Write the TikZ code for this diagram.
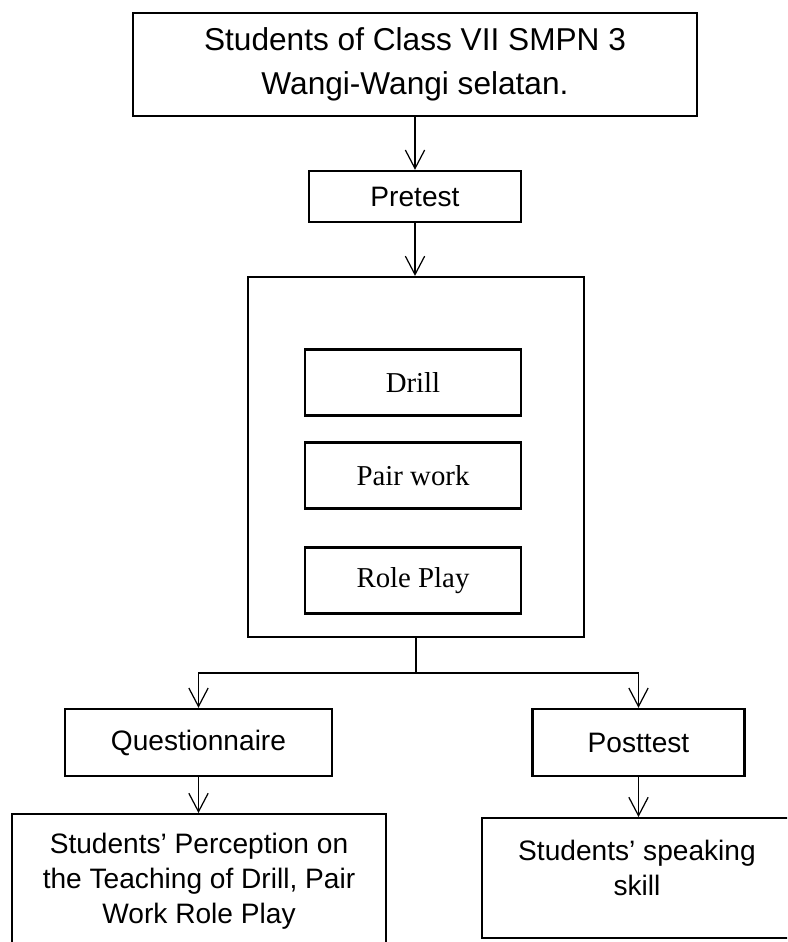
\documentclass[tikz,border=0pt]{standalone}
\usepackage{fontspec}
\setmainfont{Liberation Serif}
\newfontfamily\arialfont{Liberation Sans}
\usetikzlibrary{arrows.meta}

\begin{document}
\begin{tikzpicture}[x = 0.02cm, y = -0.02cm]
	\tikzstyle{boxStyle} = [draw, line width = 1.4pt, inner sep = 0pt, align = center]
	\tikzstyle{sansStyle} = [boxStyle, font = \arialfont\fontsize{16pt}{19.8pt}\selectfont]
	\tikzstyle{serifStyle} = [boxStyle, line width = 1.3pt, minimum width = 4.32cm, minimum height = 1.32cm, font = \fontsize{16.4pt}{19pt}\selectfont]
	\tikzstyle{arrowStyle} = [line width = 0.7pt, -{Straight Barb[length = 10.5pt, width = 11pt]}]
	\tikzstyle{lineStyle} = [line width = 0.9pt]
	\useasboundingbox (0,0) rectangle (787,942);
	\clip (0,0) rectangle (787,942);
	\node[boxStyle, minimum width = 11.28cm, minimum height = 2.06cm, font = \arialfont\fontsize{18pt}{24.7pt}\selectfont] (students) at (415,64.5) {Students of Class VII SMPN 3\\Wangi-Wangi selatan.};
	\node[sansStyle, minimum width = 4.24cm, minimum height = 1.02cm] (pretest) at (415,196.5) {Pretest};
	\node[boxStyle, line width = 1.3pt, minimum width = 6.72cm, minimum height = 7.2cm] (method) at (416,457) {};
	\node[serifStyle] (drill) at (413,382.5) {Drill};
	\node[serifStyle] (pairwork) at (413,475.5) {Pair work};
	\node[serifStyle] (roleplay) at (413,580.5) {Role Play};
	\node[sansStyle, minimum width = 5.34cm, minimum height = 1.34cm] (questionnaire) at (198.5,742.5) {Questionnaire};
	\node[sansStyle, minimum width = 4.24cm, minimum height = 1.34cm] (posttest) at (638.5,742.5) {Posttest};
	\node[sansStyle, anchor = north] (perception) at (199,813) {\parbox[c][2.8cm][t]{7.48cm}{\vspace*{0.38cm}\centering Students’ Perception on\\the Teaching of Drill, Pair\\Work Role Play}};
	\node[sansStyle, anchor = north] (speaking) at (637,817) {\parbox[c][2.4cm][t]{6.2cm}{\vspace*{0.44cm}\centering Students’ speaking\\skill}};
	\coordinate (split) at (416,673);
	\draw[arrowStyle] (students) -- (pretest);
	\draw[arrowStyle] (pretest.south) -- (pretest.south |- method.north);
	\draw[lineStyle] (method.south) -- (split);
	\draw[arrowStyle] (split) -| (questionnaire.north);
	\draw[arrowStyle] (split) -| (posttest.north);
	\draw[arrowStyle] (questionnaire.south) -- (questionnaire.south |- perception.north);
	\draw[arrowStyle] (posttest.south) -- (posttest.south |- speaking.north);
\end{tikzpicture}
\end{document}
